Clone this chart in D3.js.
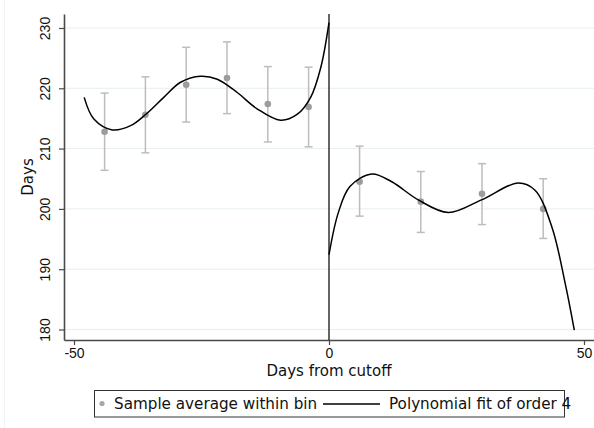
<!DOCTYPE html>
<html>
<head>
<meta charset="utf-8">
<script src="https://cdn.jsdelivr.net/npm/d3@7"></script>
<style>
  body { margin: 0; background: #fff; }
  svg { display: block; font-family: "DejaVu Sans", sans-serif; }
</style>
</head>
<body>
<script>
// Size of the page
var w = 594;
var h = 428;

// Bin averages with their confidence bands, left of the cutoff
var leftBinX = [-44, -36, -28, -20, -12, -4];
var leftBinMean = [212.8, 215.6, 220.6, 221.7, 217.4, 216.9];
var leftBinLow = [206.4, 209.3, 214.4, 215.8, 211.1, 210.3];
var leftBinHigh = [219.2, 221.9, 226.8, 227.7, 223.6, 223.5];

// Bin averages right of the cutoff
var rightBinX = [6, 18, 30, 42];
var rightBinMean = [204.5, 201.2, 202.5, 200.0];
var rightBinLow = [198.8, 196.1, 197.4, 195.1];
var rightBinHigh = [210.4, 206.2, 207.5, 205.0];

// Fitted curve
var leftFitX = [-48.0, -46.1, -42.5, -38.9, -35.9, -32.4, -29.1, -25.2, -21.9, -18.0, -14.1, -9.5, -6.2, -3.6, -1.6, 0];
var leftFitY = [218.5, 214.9, 213.1, 213.8, 215.7, 218.5, 221.0, 222.0, 221.5, 219.3, 216.6, 214.7, 215.7, 218.5, 223.5, 230.9];
var rightFitX = [0, 1.8, 4.1, 8.4, 12.3, 17.5, 23.4, 29.9, 37.1, 40.4, 43.7, 46.3, 48.1];
var rightFitY = [192.4, 199.3, 203.7, 205.8, 204.5, 201.5, 199.4, 201.5, 204.3, 203.1, 197.0, 187.7, 179.9];

// Axis ticks
var xTicks = [-50, 0, 50];
var yTicks = [180, 190, 200, 210, 220, 230];

var legendLabels = ["Sample average within bin", "Polynomial fit of order 4"];

// Plot region (named so they don't clash with window.top)
var plotLeft = 64, plotRight = 594, plotTop = 14, plotBottom = 340;

var xScale = d3.scaleLinear().domain([-51.96, 51.96]).range([plotLeft, plotRight]);
var yScale = d3.scaleLinear().domain([178.26, 232.32]).range([plotBottom, plotTop]);

var svg = d3.select("body")
    .append("svg")
    .attr("width", w)
    .attr("height", h);

// faint outer frame of the graph region
svg.append("line")
    .attr("x1", 4.5).attr("x2", 4.5)
    .attr("y1", 0).attr("y2", h)
    .attr("stroke", "#eef3f4")
    .attr("stroke-width", 1);

// horizontal gridlines
svg.append("g")
    .selectAll("line")
    .data(yTicks)
    .enter()
    .append("line")
    .attr("x1", plotLeft)
    .attr("x2", plotRight)
    .attr("y1", function(d) { return yScale(d); })
    .attr("y2", function(d) { return yScale(d); })
    .attr("stroke", "#e6eff0")
    .attr("stroke-width", 1);

// plain hyphen for negatives, like the reference
var fmt = function(d) { return String(d); };

// y axis
var yAxis = d3.axisLeft(yScale).tickValues(yTicks).tickFormat(fmt).tickSize(5).tickSizeOuter(0);
var gy = svg.append("g")
    .attr("transform", "translate(" + plotLeft + ",0)")
    .call(yAxis);
gy.select(".domain").attr("stroke", "#4a4a4a").attr("stroke-width", 1.6);
gy.selectAll(".tick line").attr("stroke", "#4a4a4a").attr("stroke-width", 1.2);
gy.selectAll(".tick text")
    .attr("font-size", "14px")
    .attr("fill", "#111")
    .attr("text-anchor", "middle")
    .attr("dy", null)
    .attr("x", null)
    .attr("transform", "translate(-14,0) rotate(-90)");

// x axis
var xAxis = d3.axisBottom(xScale).tickValues(xTicks).tickFormat(fmt).tickSize(5).tickPadding(3).tickSizeOuter(0);
var gx = svg.append("g")
    .attr("transform", "translate(0," + plotBottom + ")")
    .call(xAxis);
gx.select(".domain").attr("stroke", "#4a4a4a").attr("stroke-width", 1.6);
gx.selectAll(".tick line").attr("stroke", "#4a4a4a").attr("stroke-width", 1.2);
gx.selectAll(".tick text").attr("font-size", "14px").attr("fill", "#111");

// axis titles
svg.append("text")
    .attr("x", (plotLeft + plotRight) / 2)
    .attr("y", 376)
    .attr("text-anchor", "middle")
    .attr("font-size", "15px")
    .attr("fill", "#111")
    .text("Days from cutoff");

svg.append("text")
    .attr("transform", "translate(33," + ((plotTop + plotBottom) / 2) + ") rotate(-90)")
    .attr("text-anchor", "middle")
    .attr("font-size", "15px")
    .attr("fill", "#111")
    .text("Days");

// cutoff line
svg.append("line")
    .attr("x1", xScale(0)).attr("x2", xScale(0))
    .attr("y1", plotTop).attr("y2", plotBottom)
    .attr("stroke", "#111")
    .attr("stroke-width", 1.3);

// build bin records
var bins = leftBinX.map(function(x, i) {
    return { x: x, m: leftBinMean[i], lo: leftBinLow[i], hi: leftBinHigh[i] };
}).concat(rightBinX.map(function(x, i) {
    return { x: x, m: rightBinMean[i], lo: rightBinLow[i], hi: rightBinHigh[i] };
}));

// error bars
var eb = svg.append("g")
    .attr("stroke", "#bdbdbd")
    .attr("stroke-width", 1.5)
    .attr("fill", "none");
eb.selectAll(".stem")
    .data(bins)
    .enter()
    .append("line")
    .attr("x1", function(d) { return xScale(d.x); })
    .attr("x2", function(d) { return xScale(d.x); })
    .attr("y1", function(d) { return yScale(d.lo); })
    .attr("y2", function(d) { return yScale(d.hi); });
eb.selectAll(".capHi")
    .data(bins)
    .enter()
    .append("line")
    .attr("x1", function(d) { return xScale(d.x) - 4; })
    .attr("x2", function(d) { return xScale(d.x) + 4; })
    .attr("y1", function(d) { return yScale(d.hi); })
    .attr("y2", function(d) { return yScale(d.hi); });
eb.selectAll(".capLo")
    .data(bins)
    .enter()
    .append("line")
    .attr("x1", function(d) { return xScale(d.x) - 4; })
    .attr("x2", function(d) { return xScale(d.x) + 4; })
    .attr("y1", function(d) { return yScale(d.lo); })
    .attr("y2", function(d) { return yScale(d.lo); });

// bin means
svg.selectAll(".pt")
    .data(bins)
    .enter()
    .append("circle")
    .attr("cx", function(d) { return xScale(d.x); })
    .attr("cy", function(d) { return yScale(d.m); })
    .attr("r", 3.3)
    .attr("fill", "#9c9c9c");

// fitted curves
var line = d3.line()
    .x(function(d) { return xScale(d[0]); })
    .y(function(d) { return yScale(d[1]); })
    .curve(d3.curveCatmullRom.alpha(0.5));

[[leftFitX, leftFitY], [rightFitX, rightFitY]].forEach(function(s) {
    svg.append("path")
        .datum(s[0].map(function(x, i) { return [x, s[1][i]]; }))
        .attr("d", line)
        .attr("fill", "none")
        .attr("stroke", "#000")
        .attr("stroke-width", 1.5);
});

// legend
var lg = svg.append("g");
lg.append("rect")
    .attr("x", 94.5).attr("y", 390.5)
    .attr("width", 470).attr("height", 26.5)
    .attr("fill", "#fff")
    .attr("stroke", "#333")
    .attr("stroke-width", 1);
lg.append("circle")
    .attr("cx", 102).attr("cy", 403.5).attr("r", 2.6)
    .attr("fill", "#a8a8a8");
lg.append("text")
    .attr("x", 114).attr("y", 409)
    .attr("font-size", "15.2px")
    .attr("fill", "#111")
    .text(legendLabels[0]);
lg.append("line")
    .attr("x1", 323).attr("x2", 380)
    .attr("y1", 404).attr("y2", 404)
    .attr("stroke", "#000")
    .attr("stroke-width", 1.3);
lg.append("text")
    .attr("x", 389).attr("y", 409)
    .attr("font-size", "15.2px")
    .attr("fill", "#111")
    .text(legendLabels[1]);
</script>
</body>
</html>
